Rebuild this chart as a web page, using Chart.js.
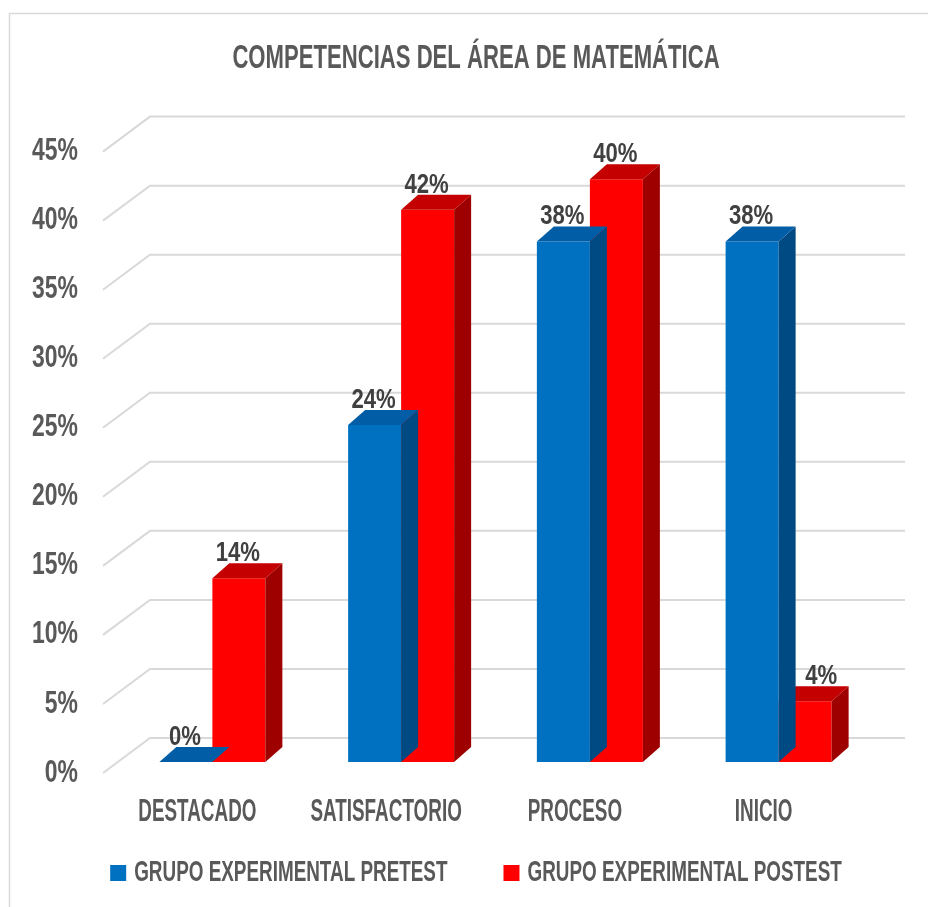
<!DOCTYPE html>
<html>
<head>
<meta charset="utf-8">
<script src="https://cdn.jsdelivr.net/npm/chart.js@4.4.1/dist/chart.umd.min.js"></script>
<style>
  html, body { margin: 0; padding: 0; background: #ffffff; }
  #wrap { width: 928px; height: 907px; }
</style>
</head>
<body>
<div id="wrap"><canvas id="c" width="928" height="907"></canvas></div>
<script>
// ---- data ----
const categories = ['DESTACADO', 'SATISFACTORIO', 'PROCESO', 'INICIO'];
const seriesNames = ['GRUPO EXPERIMENTAL PRETEST', 'GRUPO EXPERIMENTAL POSTEST'];
const pretestValues = [0, 24.4, 37.7, 37.7];       // bar heights (%)
const postestValues = [13.3, 40, 42.2, 4.4];       // bar heights (%)
const pretestLabels = ['0%', '24%', '38%', '38%']; // printed data labels
const postestLabels = ['14%', '42%', '40%', '4%'];
const yTicks = [0, 5, 10, 15, 20, 25, 30, 35, 40, 45];
const titleText = 'COMPETENCIAS DEL ÁREA DE MATEMÁTICA';

const FONT = "'Liberation Sans', Arial, sans-serif";
const TEXT = '#595959';

// condensed look (the original uses a narrow display face): glyph scaling per font size
const SIZE_TITLE = 33, SIZE_YTICK = 31, SIZE_XTICK = 32, SIZE_LEGEND = 16, SIZE_LABEL = 28;
const glyphScale = {};
glyphScale[SIZE_TITLE] = [0.67, 1];
glyphScale[SIZE_YTICK] = [0.74, 1];
glyphScale[SIZE_XTICK] = [0.59, 1];
glyphScale[SIZE_LEGEND] = [1.18, 1.875];   // legend drawn from a small size so the box gap stays tight
glyphScale[SIZE_LABEL] = [0.79, 1];
(function () {
  const proto = CanvasRenderingContext2D.prototype;
  const origFill = proto.fillText, origMeasure = proto.measureText;
  function factor(ctx) {
    const m = /(\d+(?:\.\d+)?)px/.exec(ctx.font);
    return (m && glyphScale[Math.round(parseFloat(m[1]))]) || null;
  }
  proto.fillText = function (t, x, y, maxW) {
    const f = factor(this);
    if (!f) return maxW === undefined ? origFill.call(this, t, x, y) : origFill.call(this, t, x, y, maxW);
    this.save();
    this.translate(x, y);
    this.scale(f[0], f[1]);
    origFill.call(this, t, 0, 0);
    this.restore();
  };
  proto.measureText = function (t) {
    const m = origMeasure.call(this, t);
    const f = factor(this);
    if (!f) return m;
    return {
      width: m.width * f[0],
      actualBoundingBoxAscent: m.actualBoundingBoxAscent * f[1],
      actualBoundingBoxDescent: m.actualBoundingBoxDescent * f[1],
      actualBoundingBoxLeft: m.actualBoundingBoxLeft * f[0],
      actualBoundingBoxRight: m.actualBoundingBoxRight * f[0],
      fontBoundingBoxAscent: m.fontBoundingBoxAscent * f[1],
      fontBoundingBoxDescent: m.fontBoundingBoxDescent * f[1]
    };
  };
})();

// 3D depth offsets
const BAR_SHIFT = { x: 15, y: -11 };   // bar front plane relative to floor front
const BAR_DEPTH = { x: 17, y: -15 };   // bar depth
const WALL_DEPTH = { x: 47, y: -35 };  // gridline back wall depth

const faceColors = [
  { front: '#0070C0', top: '#005DA6', side: '#004A84' },
  { front: '#FF0000', top: '#C40000', side: '#9E0000' }
];
const dataLabels = [pretestLabels, postestLabels];

const framePlugin = {
  id: 'frame',
  beforeDraw(chart) {
    const ctx = chart.ctx;
    ctx.save();
    ctx.fillStyle = '#ffffff';
    ctx.fillRect(0, 0, chart.width, chart.height);
    ctx.strokeStyle = '#d9d9d9';
    ctx.lineWidth = 1.5;
    ctx.beginPath();
    ctx.moveTo(9.5, chart.height);
    ctx.lineTo(9.5, 13.5);
    ctx.lineTo(chart.width, 13.5);
    ctx.stroke();
    ctx.restore();
    // let category labels extend below the (short) axis box
    chart.scales.x._computeLabelArea = () => undefined;
  }
};

const grid3d = {
  id: 'grid3d',
  beforeDatasetsDraw(chart) {
    const ctx = chart.ctx;
    const y = chart.scales.y;
    const area = chart.chartArea;
    ctx.save();
    ctx.strokeStyle = '#d9d9d9';
    ctx.lineWidth = 2;
    yTicks.forEach(v => {
      const py = y.getPixelForValue(v);
      ctx.beginPath();
      ctx.moveTo(area.left, py);
      ctx.lineTo(area.left + WALL_DEPTH.x, py + WALL_DEPTH.y);
      ctx.lineTo(area.right + WALL_DEPTH.x, py + WALL_DEPTH.y);
      ctx.stroke();
    });
    ctx.restore();
    ctx.save();
    ctx.translate(BAR_SHIFT.x, BAR_SHIFT.y);
  },
  afterDatasetDraw(chart, args) {
    const ctx = chart.ctx;
    const cols = faceColors[args.index];
    const dx = BAR_DEPTH.x, dy = BAR_DEPTH.y;
    args.meta.data.forEach(bar => {
      const p = bar.getProps(['x', 'y', 'base', 'width'], true);
      const l = p.x - p.width / 2, r = p.x + p.width / 2;
      const top = Math.min(p.y, p.base), base = Math.max(p.y, p.base);
      ctx.fillStyle = cols.side;
      ctx.beginPath();
      ctx.moveTo(r, top);
      ctx.lineTo(r + dx, top + dy);
      ctx.lineTo(r + dx, base + dy);
      ctx.lineTo(r, base);
      ctx.closePath();
      ctx.fill();
      ctx.fillStyle = cols.top;
      ctx.beginPath();
      ctx.moveTo(l, top);
      ctx.lineTo(r, top);
      ctx.lineTo(r + dx, top + dy);
      ctx.lineTo(l + dx, top + dy);
      ctx.closePath();
      ctx.fill();
    });
  },
  afterDatasetsDraw(chart) {
    const ctx = chart.ctx;
    ctx.fillStyle = '#404040';
    ctx.font = 'bold ' + SIZE_LABEL + 'px ' + FONT;
    ctx.textAlign = 'center';
    ctx.textBaseline = 'alphabetic';
    chart.data.datasets.forEach((ds, i) => {
      const meta = chart.getDatasetMeta(i);
      meta.data.forEach((bar, j) => {
        const p = bar.getProps(['x', 'y', 'base'], true);
        const top = Math.min(p.y, p.base);
        const yText = top + BAR_DEPTH.y - 2;
        let xText = p.x - 1;
        // a label that would run into a taller bar on its left slides to the right
        if (i > 0) {
          const prev = chart.getDatasetMeta(i - 1).data[j].getProps(['y', 'base'], true);
          if (Math.min(prev.y, prev.base) < yText - 20) xText += BAR_DEPTH.x;
        }
        ctx.fillText(dataLabels[i][j], xText, yText);
      });
    });
    ctx.restore();
  }
};

new Chart(document.getElementById('c'), {
  type: 'bar',
  data: {
    labels: categories,
    datasets: [
      { label: seriesNames[0], data: pretestValues, backgroundColor: faceColors[0].front,
        borderWidth: 0, categoryPercentage: 0.5616, barPercentage: 1, clip: false },
      { label: seriesNames[1], data: postestValues, backgroundColor: faceColors[1].front,
        borderWidth: 0, categoryPercentage: 0.5616, barPercentage: 1, clip: false }
    ]
  },
  options: {
    responsive: false,
    animation: false,
    devicePixelRatio: 1,
    layout: { padding: { left: 24, right: 0, top: 20, bottom: 16 } },
    scales: {
      x: {
        grid: { display: false, drawTicks: false },
        border: { display: false },
        ticks: { color: TEXT, font: { family: FONT, size: SIZE_XTICK, weight: 'bold' },
                 padding: 20, maxRotation: 0, autoSkip: false },
        afterFit: s => { s.height = 36; }
      },
      y: {
        min: 0, max: 45,
        grid: { display: false, drawTicks: false },
        border: { display: false },
        ticks: { stepSize: 5, color: TEXT, padding: 25,
                 font: { family: FONT, size: SIZE_YTICK, weight: 'bold' },
                 callback: v => v + '%' },
        afterFit: s => { s.width = 79; }
      },
      y2: {
        position: 'right',
        display: true,
        grid: { display: false, drawTicks: false },
        border: { display: false },
        ticks: { display: false },
        afterFit: s => { s.width = 70; }
      }
    },
    plugins: {
      title: {
        display: true, text: titleText, color: TEXT,
        font: { family: FONT, size: SIZE_TITLE, weight: 'bold' },
        padding: { top: 19, bottom: 73 }
      },
      legend: {
        position: 'bottom',
        labels: {
          color: TEXT, boxWidth: 16, boxHeight: 16, padding: 56,
          font: { family: FONT, size: SIZE_LEGEND, weight: 'bold' }
        }
      },
      tooltip: { enabled: false }
    }
  },
  plugins: [framePlugin, grid3d]
});
</script>
</body>
</html>
